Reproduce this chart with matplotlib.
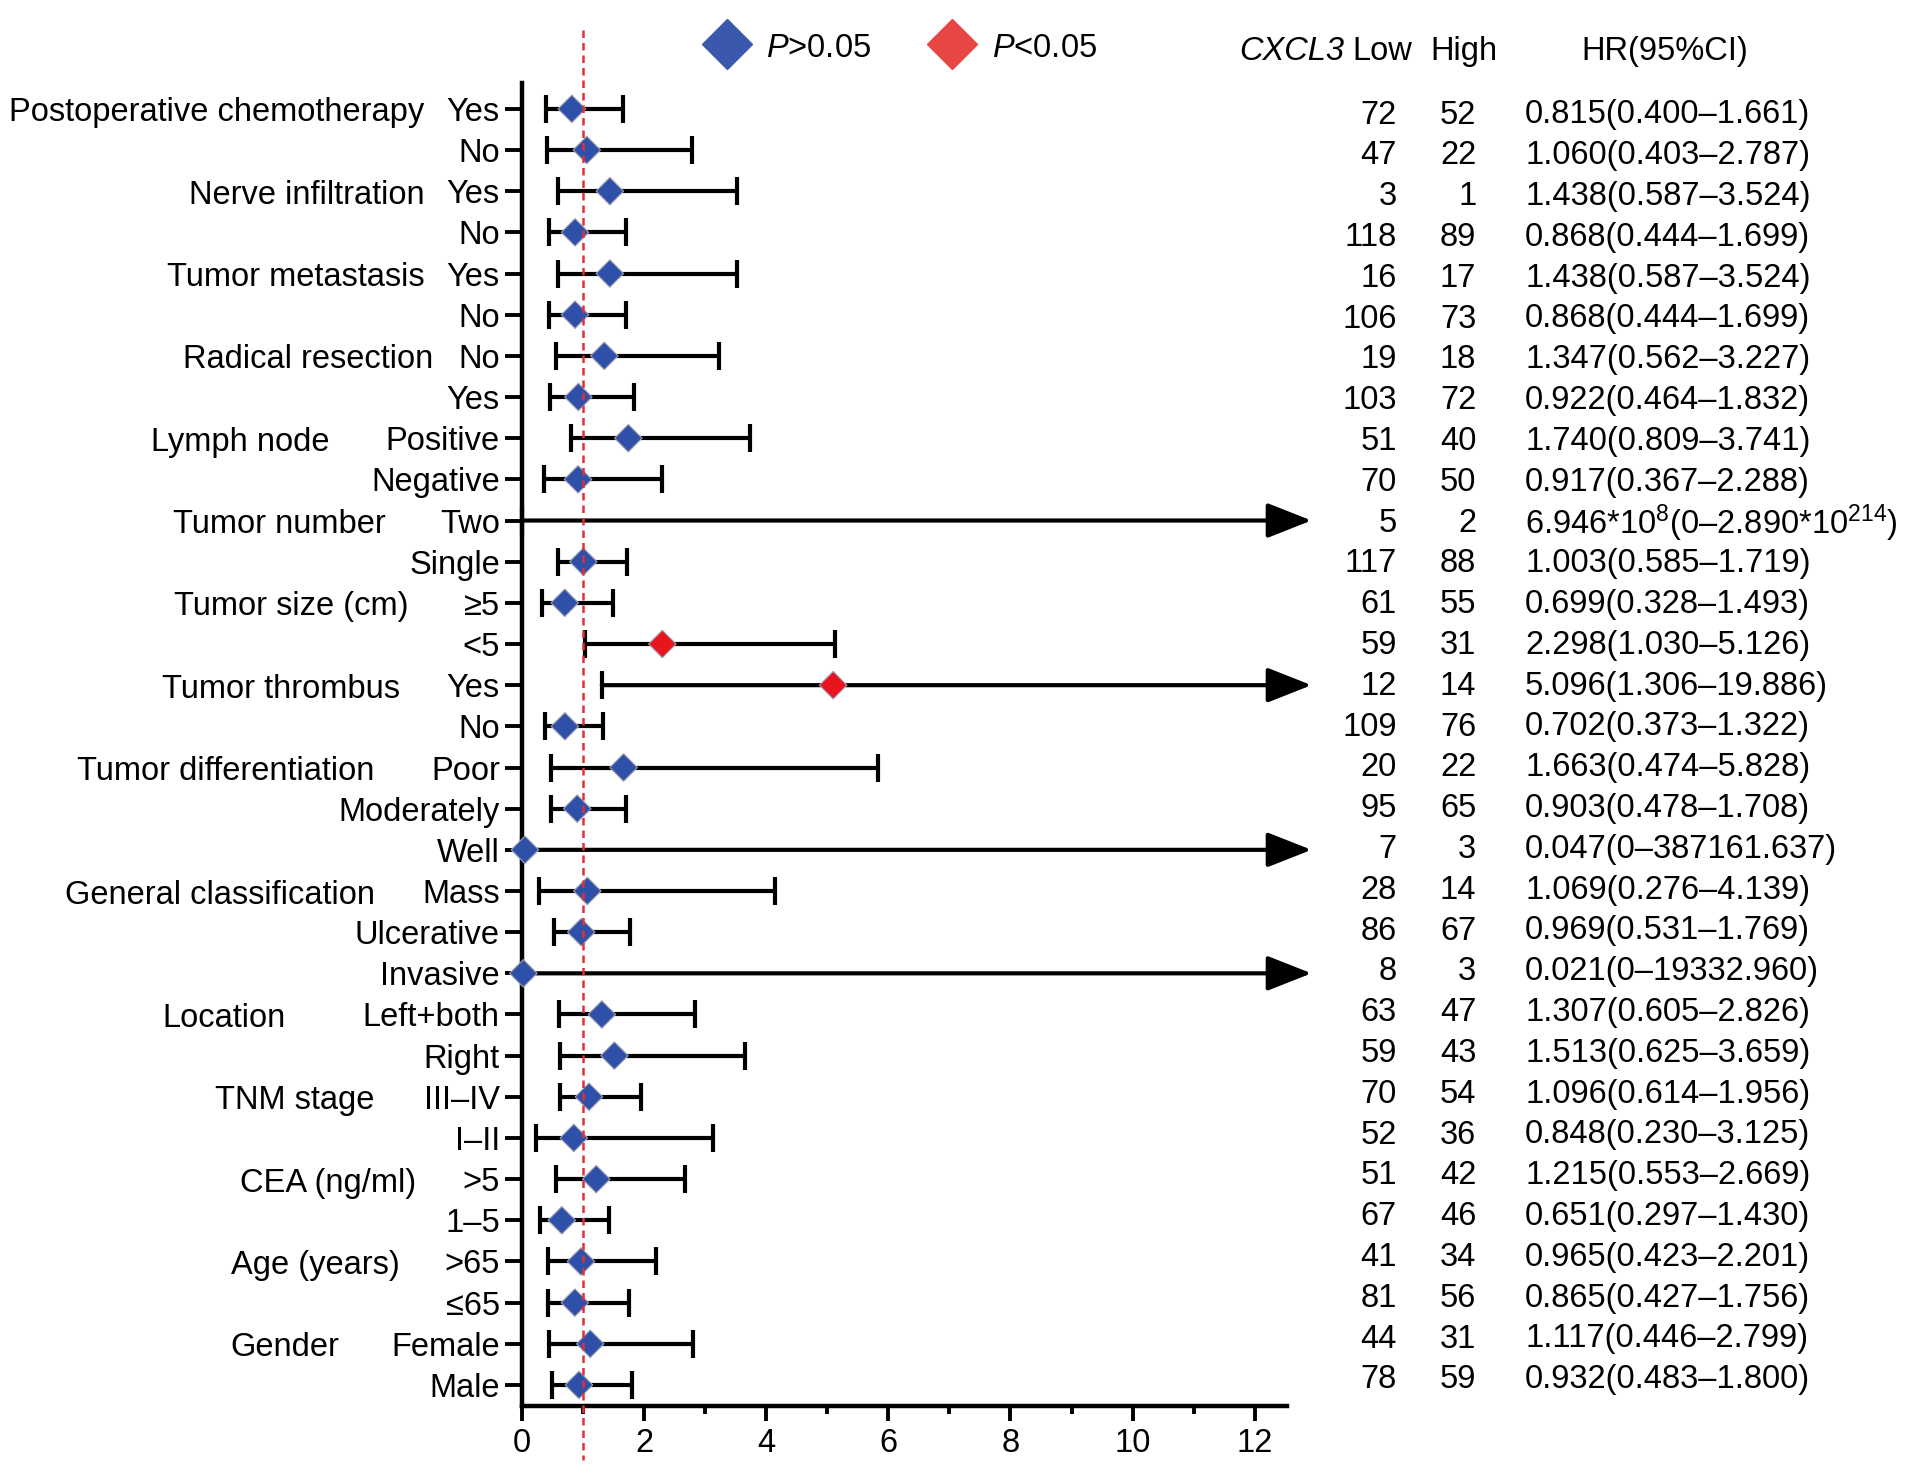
import matplotlib
matplotlib.use('Agg')
import matplotlib.pyplot as plt
import numpy as np
from matplotlib.lines import Line2D
from matplotlib.transforms import blended_transform_factory

plt.rcParams['font.family'] = ['Liberation Sans', 'DejaVu Sans']
plt.rcParams['mathtext.fontset'] = 'custom'
plt.rcParams['mathtext.rm'] = 'Liberation Sans'
plt.rcParams['mathtext.it'] = 'Liberation Sans:italic'
plt.rcParams['mathtext.bf'] = 'Liberation Sans:bold'

# ---------------- data ----------------
groups = ["Postoperative chemotherapy", "Nerve infiltration", "Tumor metastasis",
          "Radical resection", "Lymph node", "Tumor number", "Tumor size (cm)",
          "Tumor thrombus", "Tumor differentiation", "General classification",
          "Location", "TNM stage", "CEA (ng/ml)", "Age (years)", "Gender"]
group_start = [0, 2, 4, 6, 8, 10, 12, 14, 16, 19, 22, 24, 26, 28, 30]

row_labels = ["Yes", "No", "Yes", "No", "Yes", "No", "No", "Yes", "Positive", "Negative",
              "Two", "Single", "≥5", "<5", "Yes", "No", "Poor", "Moderately", "Well",
              "Mass", "Ulcerative", "Invasive", "Left+both", "Right", "III–IV", "I–II",
              ">5", "1–5", ">65", "≤65", "Female", "Male"]

hr = [0.815, 1.060, 1.438, 0.868, 1.438, 0.868, 1.347, 0.922, 1.740, 0.917,
      6.946e8, 1.003, 0.699, 2.298, 5.096, 0.702, 1.663, 0.903, 0.047,
      1.069, 0.969, 0.021, 1.307, 1.513, 1.096, 0.848, 1.215, 0.651, 0.965, 0.865,
      1.117, 0.932]
ci_low = [0.400, 0.403, 0.587, 0.444, 0.587, 0.444, 0.562, 0.464, 0.809, 0.367,
          0.0, 0.585, 0.328, 1.030, 1.306, 0.373, 0.474, 0.478, 0.0,
          0.276, 0.531, 0.0, 0.605, 0.625, 0.614, 0.230, 0.553, 0.297, 0.423, 0.427,
          0.446, 0.483]
ci_high = [1.661, 2.787, 3.524, 1.699, 3.524, 1.699, 3.227, 1.832, 3.741, 2.288,
           2.890e214, 1.719, 1.493, 5.126, 19.886, 1.322, 5.828, 1.708, 387161.637,
           4.139, 1.769, 19332.960, 2.826, 3.659, 1.956, 3.125, 2.669, 1.430, 2.201, 1.756,
           2.799, 1.800]
n_low = [72, 47, 3, 118, 16, 106, 19, 103, 51, 70, 5, 117, 61, 59, 12, 109, 20, 95, 7,
         28, 86, 8, 63, 59, 70, 52, 51, 67, 41, 81, 44, 78]
n_high = [52, 22, 1, 89, 17, 73, 18, 72, 40, 50, 2, 88, 55, 31, 14, 76, 22, 65, 3,
          14, 67, 3, 47, 43, 54, 36, 42, 46, 34, 56, 31, 59]
significant = [False] * 13 + [True, True] + [False] * 17

x_ticks = [0, 2, 4, 6, 8, 10, 12]

# ---------------- styles ----------------
FS = 23.5
BLUE = '#2F50A8'
RED = '#E8141E'
XMAX = 12.53
ARROW_TIP = 12.93

fig = plt.figure(figsize=(19.13, 14.73), dpi=100)
ax = fig.add_axes([0.2729, 0.0455, 0.6728 - 0.2729, 0.9437 - 0.0455])

n = len(row_labels)
ypos = np.arange(n)

ax.set_xlim(0, XMAX)
ax.set_ylim(31.51, -0.63)

for s in ['top', 'right']:
    ax.spines[s].set_visible(False)
for s in ['left', 'bottom']:
    ax.spines[s].set_linewidth(3.2)

ax.set_yticks(ypos)
ax.set_yticklabels(row_labels, fontsize=FS)
ax.set_xticks(x_ticks)
ax.set_xticklabels([str(t) for t in x_ticks], fontsize=FS)
ax.set_xticks(np.arange(1, 12, 2), minor=True)
ax.tick_params(axis='y', length=12, width=2.8, pad=4)
ax.tick_params(axis='x', which='major', length=11, width=2.8, pad=5)
ax.tick_params(axis='x', which='minor', length=6, width=2.8)

LW = 3.0
for i in range(n):
    h, lo, hi = hr[i], ci_low[i], ci_high[i]
    if hi <= XMAX:
        ax.errorbar([h], [i], xerr=[[h - lo], [hi - h]], fmt='none', ecolor='black',
                    elinewidth=LW, capsize=10, capthick=LW, zorder=2)
    else:
        ax.annotate("", xy=(ARROW_TIP, i), xytext=(lo, i),
                    arrowprops=dict(arrowstyle='-|>,head_length=2.74,head_width=1.08',
                                    mutation_scale=10, lw=LW, color='black',
                                    shrinkA=0, shrinkB=0),
                    annotation_clip=False, zorder=2)
        ax.plot([lo], [i], marker='|', ms=20, mew=LW, color='black', zorder=2,
                clip_on=False)

vis = [i for i in range(n) if hr[i] <= XMAX]
ax.scatter([hr[i] for i in vis], [i for i in vis], marker='D', s=14 ** 2,
           c=[RED if significant[i] else BLUE for i in vis],
           edgecolors='#a0a0b0', linewidths=0.8, zorder=4, clip_on=False)

# reference line at HR = 1
trans_v = blended_transform_factory(ax.transData, ax.transAxes)
ax.plot([1, 1], [1.04, -0.041], transform=trans_v, clip_on=False, color='#E0303A',
        lw=1.8, dashes=(3, 2), zorder=5)

# group labels
group_right = [0.2219, 0.2219, 0.2219, 0.2264, 0.1722, 0.2015, 0.2136, 0.2092,
               0.1958, 0.1958, 0.1492, 0.1958, 0.2175, 0.2092, 0.1773]
trans_g = blended_transform_factory(fig.transFigure, ax.transData)
for g, st, xr in zip(groups, group_start, group_right):
    ax.text(xr, st + 0.1, g, transform=trans_g, ha='right', va='center', fontsize=FS)

# right-hand table
def fmt(v):
    if v == 0:
        return "0"
    if v >= 1e6:
        e = int(np.floor(np.log10(v)))
        m = v / 10 ** e
        return f"{m:.3f}*10$^{{\\mathregular{{{e}}}}}$"
    return f"{v:.3f}"

for i in range(n):
    yf = 1 - (115 + i * 40.8) / 1473
    fig.text(0.7302, yf, str(n_low[i]), ha='right', va='center', fontsize=FS)
    fig.text(0.7717, yf, str(n_high[i]), ha='right', va='center', fontsize=FS)
    fig.text(0.7972, yf, f"{fmt(hr[i])}({fmt(ci_low[i])}–{fmt(ci_high[i])})",
             ha='left', va='center', fontsize=FS)

yh = 0.9647
fig.text(0.7025, yh, "CXCL3", ha='right', va='center', fontsize=FS, fontstyle='italic')
fig.text(0.738, yh, "Low", ha='right', va='center', fontsize=FS)
fig.text(0.783, yh, "High", ha='right', va='center', fontsize=FS)
fig.text(0.870, yh, "HR(95%CI)", ha='center', va='center', fontsize=FS)

# legend
handles = [Line2D([], [], ls='none', marker='D', ms=25, color='#3A58AC', mec='#3A58AC'),
           Line2D([], [], ls='none', marker='D', ms=25, color='#E84545', mec='#E84545')]
fig.legend(handles, [r"$\mathit{P}$>0.05", r"$\mathit{P}$<0.05"], ncol=2,
           loc='center left', bbox_to_anchor=(0.3699, 0.968), frameon=False,
           fontsize=FS, handlelength=1.2, handletextpad=0.6, columnspacing=1.88,
           borderpad=0, borderaxespad=0, handleheight=1.0)

fig.savefig('out.png', dpi=100, facecolor='white')
